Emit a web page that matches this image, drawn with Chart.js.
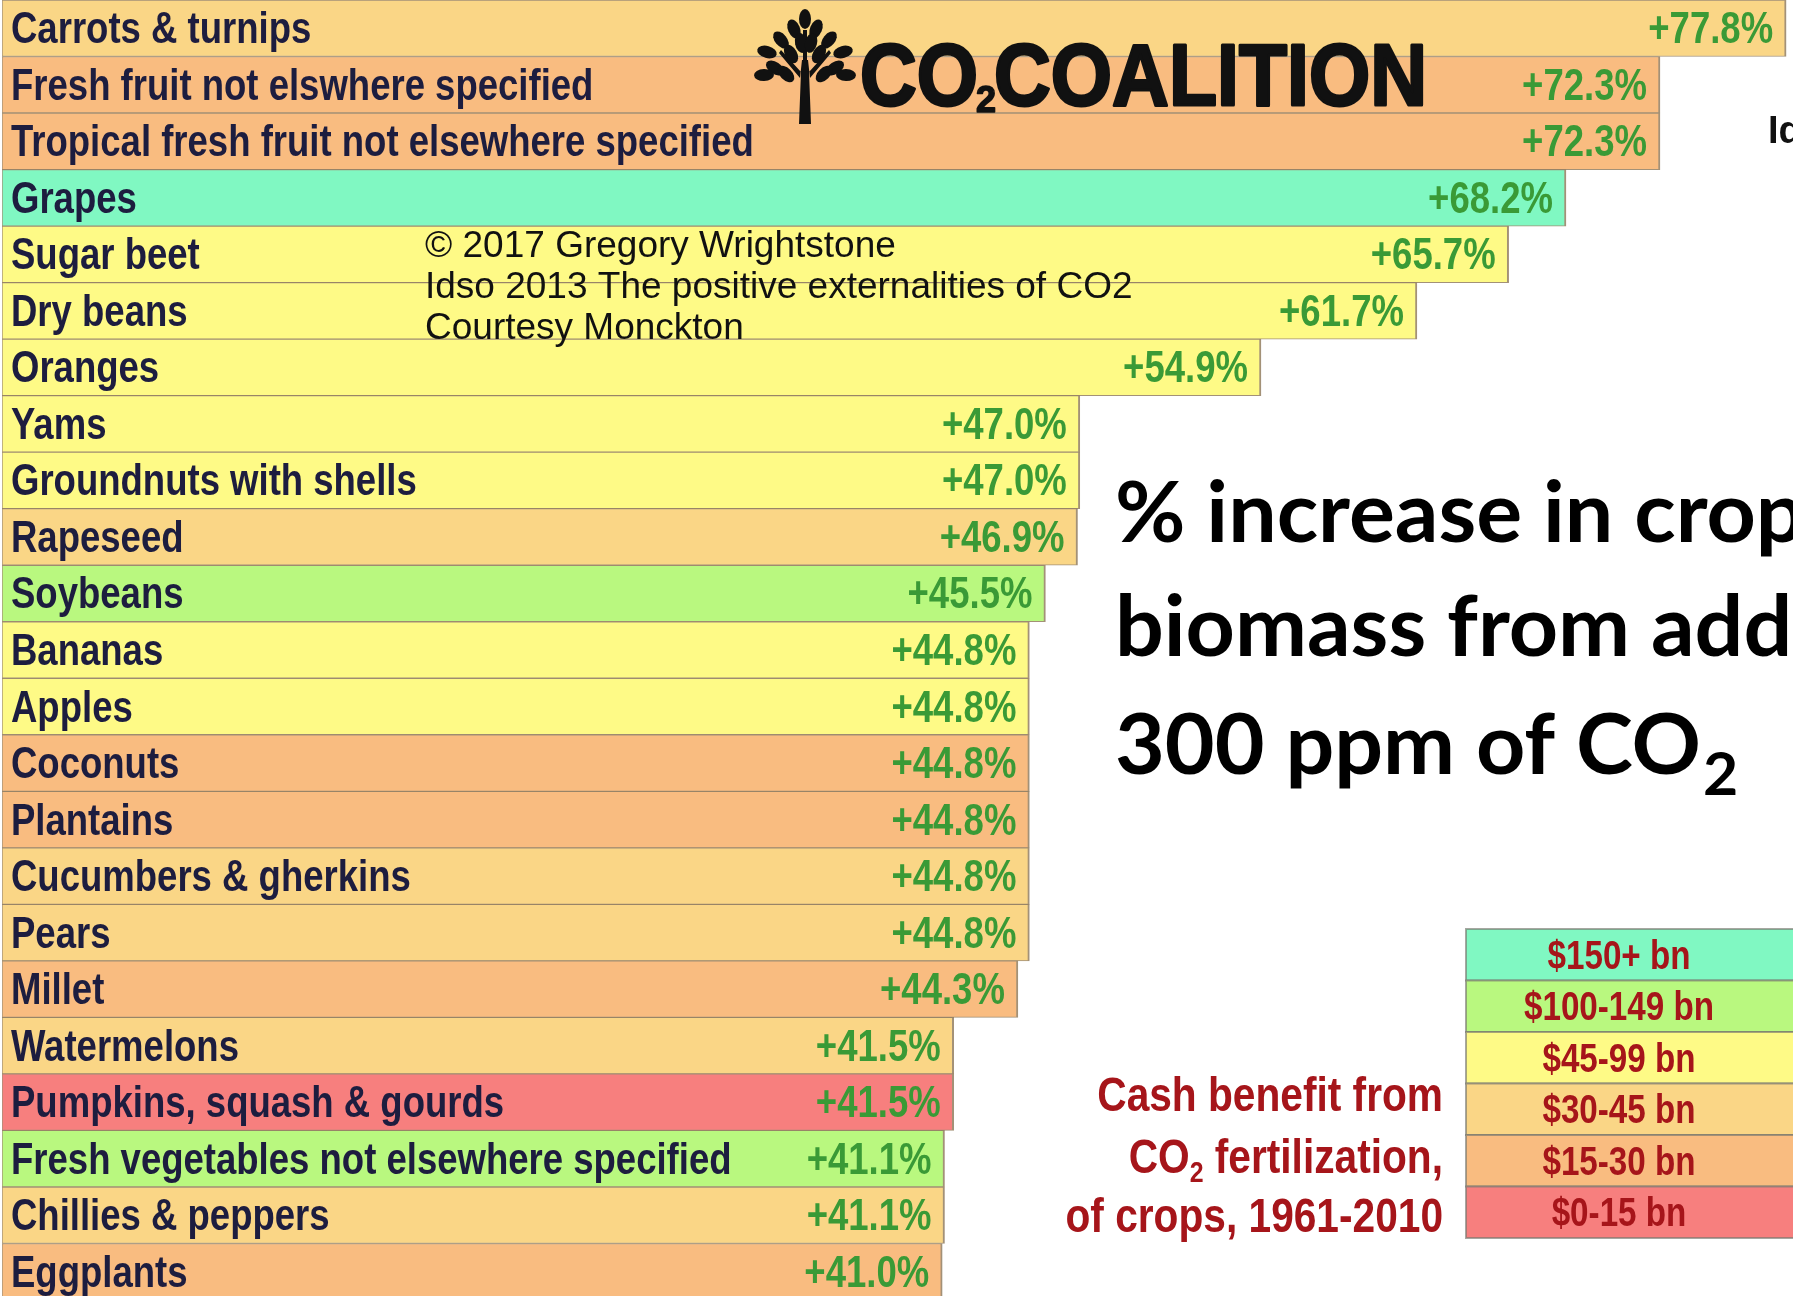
<!DOCTYPE html>
<html><head><meta charset="utf-8">
<script src="https://cdn.jsdelivr.net/npm/chart.js@4/dist/chart.umd.min.js"></script>
<style>html,body{margin:0;padding:0;background:#fff;overflow:hidden;}#wrap{width:1793px;height:1300px;position:relative;}</style>
</head><body><div id="wrap"><canvas id="c" width="1793" height="1300"></canvas></div>
<script>
// ---------- data ----------
const categories = [
  'Carrots & turnips',
  'Fresh fruit not elswhere specified',
  'Tropical fresh fruit not elsewhere specified',
  'Grapes',
  'Sugar beet',
  'Dry beans',
  'Oranges',
  'Yams',
  'Groundnuts with shells',
  'Rapeseed',
  'Soybeans',
  'Bananas',
  'Apples',
  'Coconuts',
  'Plantains',
  'Cucumbers & gherkins',
  'Pears',
  'Millet',
  'Watermelons',
  'Pumpkins, squash & gourds',
  'Fresh vegetables not elsewhere specified',
  'Chillies & peppers',
  'Eggplants'
];
const values = [77.8, 72.3, 72.3, 68.2, 65.7, 61.7, 54.9, 47.0, 47.0, 46.9, 45.5,
  44.8, 44.8, 44.8, 44.8, 44.8, 44.8, 44.3, 41.5, 41.5, 41.1, 41.1, 41.0];
// index into cash-benefit bands (0 = $150+ bn ... 5 = $0-15 bn)
const cashBand = [3, 4, 4, 0, 2, 2, 2, 2, 2, 3, 1, 2, 2, 4, 4, 3, 3, 4, 3, 5, 1, 3, 4];
const bandLabels = ['$150+ bn', '$100-149 bn', '$45-99 bn', '$30-45 bn', '$15-30 bn', '$0-15 bn'];
const bandColors = ['#80F8C2', '#B9F87F', '#FEFA86', '#FAD686', '#F9BC80', '#F77F7E'];
const titleLines = ['% increase in crop', 'biomass from adding', '300 ppm of CO'];
const creditLines = ['\u00A9 2017 Gregory Wrightstone', 'Idso 2013 The positive externalities of CO2', 'Courtesy Monckton'];
const cashLines = ['Cash benefit from', 'CO|2| fertilization,', 'of crops, 1961-2010'];
const xMax = 78.1;

// ---------- helpers ----------
const NARROW = 0.83;
const SANS = '"Liberation Sans", Arial, sans-serif';
function narrowText(ctx, text, x, y, size, weight, color, align, sx) {
  sx = sx || NARROW;
  ctx.save();
  ctx.font = weight + ' ' + size + 'px ' + SANS;
  const w = ctx.measureText(text).width * sx;
  const x0 = align === 'right' ? x - w : (align === 'center' ? x - w / 2 : x);
  ctx.translate(x0, y); ctx.scale(sx, 1);
  ctx.fillStyle = color; ctx.textAlign = 'left'; ctx.textBaseline = 'alphabetic';
  ctx.fillText(text, 0, 0);
  ctx.restore();
  return w;
}
function measureNarrow(ctx, text, size, weight, sx) {
  ctx.save(); ctx.font = weight + ' ' + size + 'px ' + SANS;
  const w = ctx.measureText(text).width * (sx || NARROW); ctx.restore(); return w;
}

const barLabels = {
  id: 'barLabels',
  afterDatasetsDraw(chart) {
    const ctx = chart.ctx;
    const meta = chart.getDatasetMeta(0);
    meta.data.forEach((el, i) => {
      const base = el.y + 15;
      narrowText(ctx, categories[i], 11, base, 44, 'bold', '#1d1d3f', 'left');
      narrowText(ctx, '+' + values[i].toFixed(1) + '%', el.x - 13, base, 44, 'bold', '#3a9a36', 'right');
    });
  }
};

function drawTree(ctx, cx, top, bottom) {
  ctx.save();
  ctx.fillStyle = '#111';
  ctx.beginPath();
  ctx.moveTo(cx - 6, bottom); ctx.lineTo(cx + 6, bottom);
  ctx.lineTo(cx + 4, top + 60); ctx.lineTo(cx + 24, top + 38); ctx.lineTo(cx + 26, top + 41);
  ctx.lineTo(cx + 5, top + 66); ctx.lineTo(cx + 3, top + 48); ctx.lineTo(cx - 3, top + 48);
  ctx.lineTo(cx - 5, top + 66); ctx.lineTo(cx - 26, top + 41); ctx.lineTo(cx - 24, top + 38);
  ctx.lineTo(cx - 4, top + 60); ctx.closePath(); ctx.fill();
  ctx.fillRect(cx - 2, top + 18, 4, 34);
  const leaves = [
    [0, 7, 0], [-11, 17, -0.4], [11, 17, 0.4], [-4, 31, -0.2], [6, 31, 0.25],
    [-24, 28, -0.7], [24, 28, 0.7], [-14, 42, -0.5], [14, 42, 0.5],
    [-38, 40, -1.3], [38, 40, 1.3], [-30, 56, -1.0], [30, 56, 1.0],
    [-41, 63, -1.6], [41, 63, 1.6], [-19, 62, -0.8], [19, 62, 0.8]
  ];
  leaves.forEach(([dx, dy, a]) => {
    ctx.save(); ctx.translate(cx + dx, top + dy); ctx.rotate(a);
    ctx.beginPath(); ctx.ellipse(0, 0, 6, 10, 0, 0, Math.PI * 2); ctx.fill();
    ctx.restore();
  });
  ctx.restore();
}

const overlays = {
  id: 'overlays',
  afterDraw(chart) {
    const ctx = chart.ctx;
    // logo
    drawTree(ctx, 805, 12, 124);
    ctx.save();
    const LF = 'bold 88px ' + SANS;
    ctx.font = LF;
    const wCO = ctx.measureText('CO').width;
    const wRest = ctx.measureText('COALITION').width;
    ctx.font = 'bold 40px ' + SANS;
    const w2 = ctx.measureText('2').width;
    const sx = (569 - 0.8 * w2) / (wCO + wRest);
    ctx.fillStyle = '#111'; ctx.strokeStyle = '#111'; ctx.lineWidth = 3; ctx.lineJoin = 'round';
    ctx.save(); ctx.translate(860, 105); ctx.scale(sx, 1);
    ctx.font = LF; ctx.fillText('CO', 0, 0); ctx.strokeText('CO', 0, 0);
    ctx.restore();
    const x2 = 860 + wCO * sx - 2;
    ctx.font = 'bold 36px ' + SANS; ctx.lineWidth = 1.5;
    ctx.fillText('2', x2, 112); ctx.strokeText('2', x2, 112);
    ctx.save(); ctx.translate(x2 + w2 * 0.8, 105); ctx.scale(sx, 1);
    ctx.font = LF; ctx.lineWidth = 3; ctx.fillText('COALITION', 0, 0); ctx.strokeText('COALITION', 0, 0);
    ctx.restore();
    ctx.restore();

    // credits
    ctx.save();
    ctx.fillStyle = '#111'; ctx.font = '37px ' + SANS; ctx.textBaseline = 'alphabetic';
    [257, 298, 339].forEach((y, i) => ctx.fillText(creditLines[i], 425, y));
    ctx.restore();

    // partial text at far right
    ctx.save(); ctx.fillStyle = '#111'; ctx.font = 'bold 38px ' + SANS;
    ctx.fillText('Idso 2013', 1768, 143); ctx.restore();

    // big title
    ctx.save();
    ctx.fillStyle = '#000';
    const TF = 'bold 85px Lato, "Open Sans", sans-serif';
    ctx.font = TF;
    const wt = ctx.measureText(titleLines[2]).width;
    const tsx = Math.min(1.15, Math.max(0.8, 586 / wt));
    const tb = [542, 656, 774];
    titleLines.forEach((t, i) => {
      ctx.save(); ctx.translate(1115, tb[i]); ctx.scale(tsx, 1); ctx.font = TF; ctx.fillText(t, 0, 0); ctx.restore();
    });
    ctx.font = 'bold 60px Lato, "Open Sans", sans-serif';
    ctx.save(); ctx.translate(1115 + wt * tsx + 2, 795); ctx.scale(tsx, 1); ctx.fillText('2', 0, 0); ctx.restore();
    ctx.restore();

    // cash benefit legend
    const lx = 1466, ly = 929, lh = 51.5;
    ctx.save();
    bandLabels.forEach((lab, i) => {
      const y = ly + i * lh;
      ctx.fillStyle = bandColors[i];
      ctx.fillRect(lx, y, 1793 - lx + 5, lh);
      ctx.strokeStyle = 'rgba(120,120,110,0.65)'; ctx.lineWidth = 2;
      ctx.strokeRect(lx, y, 1793 - lx + 5, lh);
      narrowText(ctx, lab, 1619, y + lh / 2 + 14, 40, 'bold', '#A6151A', 'center');
    });
    ctx.restore();

    // cash benefit caption (right aligned)
    const cb = [1111, 1173, 1232];
    cashLines.forEach((line, i) => {
      const parts = line.split('|');
      if (parts.length === 1) {
        narrowText(ctx, line, 1443, cb[i], 49, 'bold', '#A6151A', 'right');
      } else {
        const wa = measureNarrow(ctx, parts[0], 49, 'bold');
        const ws = measureNarrow(ctx, parts[1], 30, 'bold');
        const wc = measureNarrow(ctx, parts[2], 49, 'bold');
        let x = 1443 - (wa + ws + wc);
        narrowText(ctx, parts[0], x, cb[i], 49, 'bold', '#A6151A', 'left'); x += wa;
        narrowText(ctx, parts[1], x, cb[i] + 9, 30, 'bold', '#A6151A', 'left'); x += ws;
        narrowText(ctx, parts[2], x, cb[i], 49, 'bold', '#A6151A', 'left');
      }
    });
  }
};

function build() {
  new Chart(document.getElementById('c'), {
    type: 'bar',
    data: {
      labels: categories,
      datasets: [{
        data: values,
        backgroundColor: cashBand.map(b => bandColors[b]),
        borderColor: 'rgba(140,118,85,0.8)',
        borderWidth: { top: 1, bottom: 1, left: 1, right: 2 },
        borderSkipped: false,
        barPercentage: 1.0,
        categoryPercentage: 1.0
      }]
    },
    options: {
      indexAxis: 'y',
      responsive: false,
      devicePixelRatio: 1,
      animation: false,
      layout: { padding: { left: 2, top: 0, right: 0, bottom: 0 } },
      scales: {
        x: { display: false, min: 0, max: xMax },
        y: { display: false }
      },
      plugins: { legend: { display: false }, tooltip: { enabled: false } }
    },
    plugins: [barLabels, overlays]
  });
}
Promise.all([
  document.fonts.load('bold 44px "Liberation Sans"'),
  document.fonts.load('44px "Liberation Sans"'),
  document.fonts.load('bold 85px Lato')
]).then(build, build);
</script>
</body></html>
